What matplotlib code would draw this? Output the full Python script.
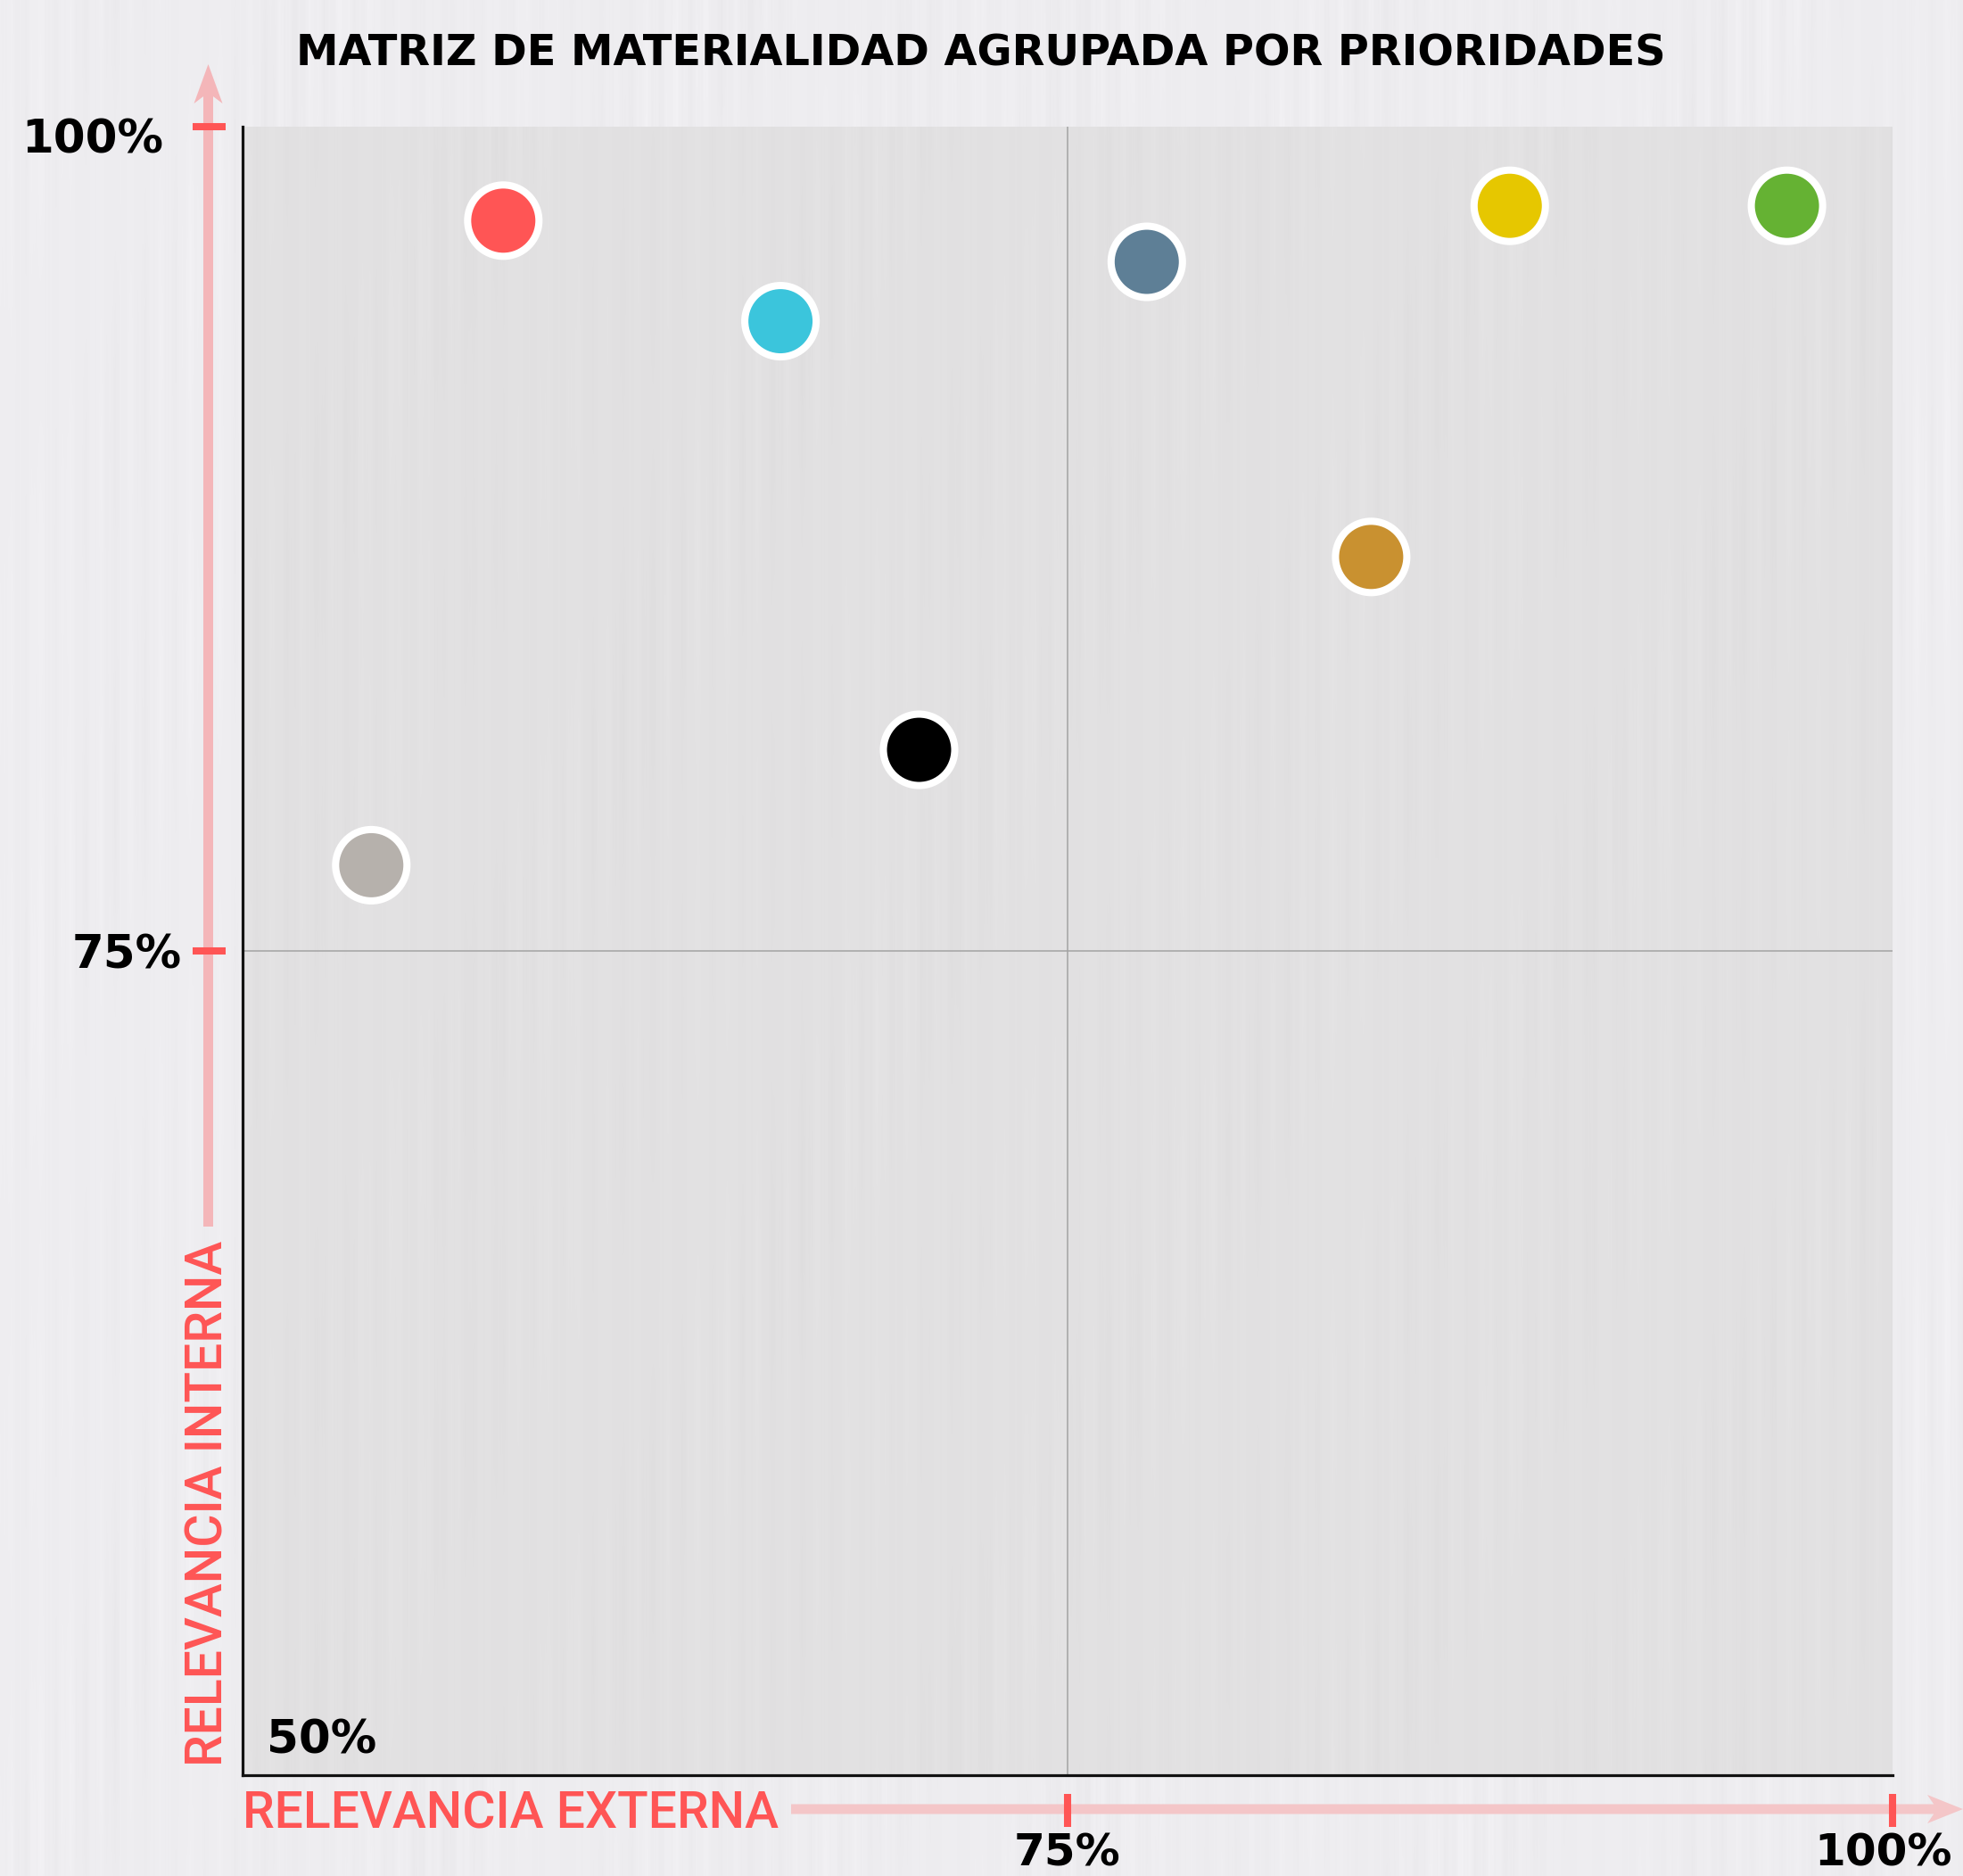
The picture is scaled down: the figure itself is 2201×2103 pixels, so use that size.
import matplotlib
matplotlib.use('Agg')
import numpy as np
import matplotlib.pyplot as plt
from matplotlib.patches import FancyArrow

# ---------------- data ----------------
title = "MATRIZ DE MATERIALIDAD AGRUPADA POR PRIORIDADES"
x_label = "RELEVANCIA EXTERNA"
y_label = "RELEVANCIA INTERNA"

x_external = [57.9, 66.3, 77.4, 88.4, 96.8, 84.2, 70.5, 53.9]
y_internal = [97.15, 94.1, 95.9, 97.6, 97.6, 86.95, 81.1, 77.6]
point_colors = ["#FF5555", "#3BC5DC", "#5E7F96", "#E6C700",
                "#65B233", "#C99130", "#000000", "#B6B1AC"]

axis_min, axis_max, axis_mid = 50, 100, 75
x_ticks = [75, 100]
x_tick_labels = ["75%", "100%"]
y_ticks = [75, 100]
y_tick_labels = ["75%", "100%"]
origin_label = "50%"

# ---------------- styling ----------------
W, H = 2201, 2103
RED = "#FF5555"
PINK_Y = "#F4B6B9"
PINK_X = "#F4C6C8"
TICK_FONT = ["DejaVu Sans"]
LABEL_FONT = ["Roboto", "DejaVu Sans"]


def streak_texture(w, h, phase):
    """Decorative paper-like vertical streak texture (not data)."""
    c = np.arange(w)[None, :].astype(float)
    r = np.arange(h)[:, None].astype(float)
    cols = (np.sin(c * 0.37 + phase) + 0.6 * np.sin(c * 1.13 + 1.0 + phase)
            + 0.4 * np.sin(c * 2.9 + 2.0) + 0.5 * np.sin(c * 0.071 + phase))
    mod = 0.55 + 0.45 * np.sin(r / 53.0 + c * 0.043 + phase) * np.sin(r / 131.0 + c * 0.011)
    return cols * mod / 2.5


fig = plt.figure(figsize=(W / 100, H / 100), dpi=100, facecolor="#EEEDF0")

# figure background texture
bg = fig.add_axes([0, 0, 1, 1], zorder=-10)
bg.axis("off")
tex = streak_texture(W // 2, H // 2, 0.0)
base = np.array([0xEE, 0xED, 0xF0]) / 255.0
img = np.clip(base[None, None, :] + 0.022 * tex[:, :, None], 0, 1)
bg.imshow(img, extent=[0, 1, 0, 1], aspect="auto", interpolation="bilinear")

ax = fig.add_axes([272 / W, 1 - 1990 / H, 1850 / W, 1848 / H])
tex2 = streak_texture(925, 924, 1.7)
base2 = np.array([0xE2, 0xE1, 0xE2]) / 255.0
img2 = np.clip(base2[None, None, :] + 0.016 * tex2[:, :, None], 0, 1)
ax.imshow(img2, extent=[axis_min, axis_max, axis_min, axis_max], aspect="auto",
          interpolation="bilinear", zorder=0)
ax.set_xlim(axis_min, axis_max)
ax.set_ylim(axis_min, axis_max)
for s in ["top", "right"]:
    ax.spines[s].set_visible(False)
for s in ["left", "bottom"]:
    ax.spines[s].set_linewidth(2.3)
    ax.spines[s].set_color("#111111")
ax.set_xticks([])
ax.set_yticks([])

ax.axvline(axis_mid, color="#A3A3A3", lw=1.1, zorder=1)
ax.axhline(axis_mid, color="#A3A3A3", lw=1.1, zorder=1)

ax.scatter(x_external, y_internal, s=57.6 ** 2, c=point_colors,
           edgecolors="white", linewidths=5.8, zorder=3)

# overlay in pixel coordinates (origin top-left)
ov = fig.add_axes([0, 0, 1, 1], facecolor="none")
ov.set_xlim(0, W)
ov.set_ylim(H, 0)
ov.axis("off")


def to_px(xd, yd):
    X, Y = ax.transData.transform((xd, yd))
    return X, H - Y


# title
ov.text(1100, 74, title, ha="center", va="baseline", fontsize=34.4,
        fontweight="bold", family=TICK_FONT, color="black")

# y arrow
ov.add_patch(FancyArrow(233.5, 1375, 0, 72 - 1375, width=11, head_width=32,
                        head_length=44, overhang=0.18, length_includes_head=True,
                        color=PINK_Y, lw=0))
# x arrow
ov.add_patch(FancyArrow(887, 2028, 2201 - 887, 0, width=11, head_width=32,
                        head_length=40, overhang=0.18, length_includes_head=True,
                        color=PINK_X, lw=0))

# y ticks and labels
y_label_right = {75: 204, 100: 183}
y_label_dy = {75: 19, 100: 29}
for v, lab in zip(y_ticks, y_tick_labels):
    _, py = to_px(axis_min, v)
    ov.plot([216, 253], [py, py], color=RED, lw=5.8, solid_capstyle="butt")
    ov.text(y_label_right[v], py + y_label_dy[v], lab, ha="right", va="baseline",
            fontsize=37, fontweight="bold", family=TICK_FONT, color="black")

# x ticks and labels
for v, lab in zip(x_ticks, x_tick_labels):
    px, _ = to_px(v, axis_min)
    ov.plot([px, px], [2011, 2048], color=RED, lw=5.8, solid_capstyle="butt")
    ov.text(px - (10 if v == 100 else 0), 2092, lab, ha="center", va="baseline",
            fontsize=36, fontweight="bold", family=TICK_FONT, color="black")

# origin label
ov.text(299, 1966, origin_label, ha="left", va="baseline", fontsize=37,
        fontweight="bold", family=TICK_FONT, color="black")

# axis titles
ov.text(272, 2049, x_label, ha="left", va="baseline", fontsize=41,
        fontweight="medium", family=LABEL_FONT, color=RED)
ov.text(249.5, 1980, y_label, ha="left", va="baseline", rotation=90,
        rotation_mode="anchor", fontsize=41, fontweight="medium",
        family=LABEL_FONT, color=RED)

fig.savefig("out.png", dpi=100, facecolor=fig.get_facecolor())
